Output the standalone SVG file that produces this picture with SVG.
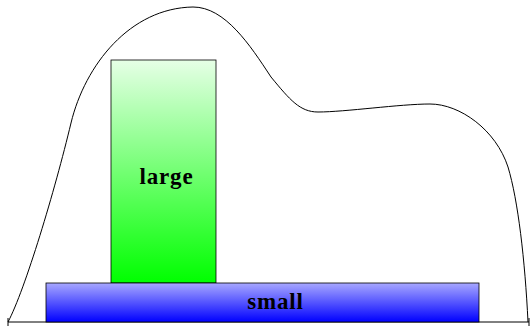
<svg xmlns="http://www.w3.org/2000/svg" width="531" height="326" viewBox="0 0 531 326">
<defs>
<linearGradient id="gGreen" x1="0" y1="0" x2="0" y2="1"><stop offset="0" stop-color="#e6ffe6"/><stop offset="1" stop-color="#00ff00"/></linearGradient>
<linearGradient id="gBlue" x1="0" y1="0" x2="0" y2="1"><stop offset="0" stop-color="#a8a8ff"/><stop offset="1" stop-color="#0000ff"/></linearGradient>
<style>
.box{stroke:#000;stroke-width:0.8}
.lbl{font-family:"Liberation Serif","DejaVu Serif",serif;font-weight:bold;font-size:23px;letter-spacing:0.8px;text-anchor:middle;fill:#000}
.ln{fill:none;stroke:#000;stroke-width:1}
</style>
</defs>
<rect width="531" height="326" fill="#fff"/>
<g id="connectors">
<path class="ln" d="M8,322 C25,290 55,190 71,123 C85,65 130,8 193,7 C225,7 250,45 271,77 C290,100 300,112 318,112 C345,112 400,104 430,104 C460,104 496,130 508,167 C518,200 525,260 528,322"/>
<line class="ln" x1="8" y1="322" x2="529" y2="322"/>
<line class="ln" x1="8" y1="318" x2="8" y2="326"/>
<line class="ln" x1="529" y1="318" x2="529" y2="326"/>
</g>
<g id="large">
<rect class="box" x="111" y="60" width="105" height="223" fill="url(#gGreen)"/>
<text class="lbl" x="166.5" y="184">large</text>
</g>
<g id="small">
<rect class="box" x="46" y="283" width="433" height="39" fill="url(#gBlue)"/>
<text class="lbl" x="275.5" y="309">small</text>
</g>
</svg>
